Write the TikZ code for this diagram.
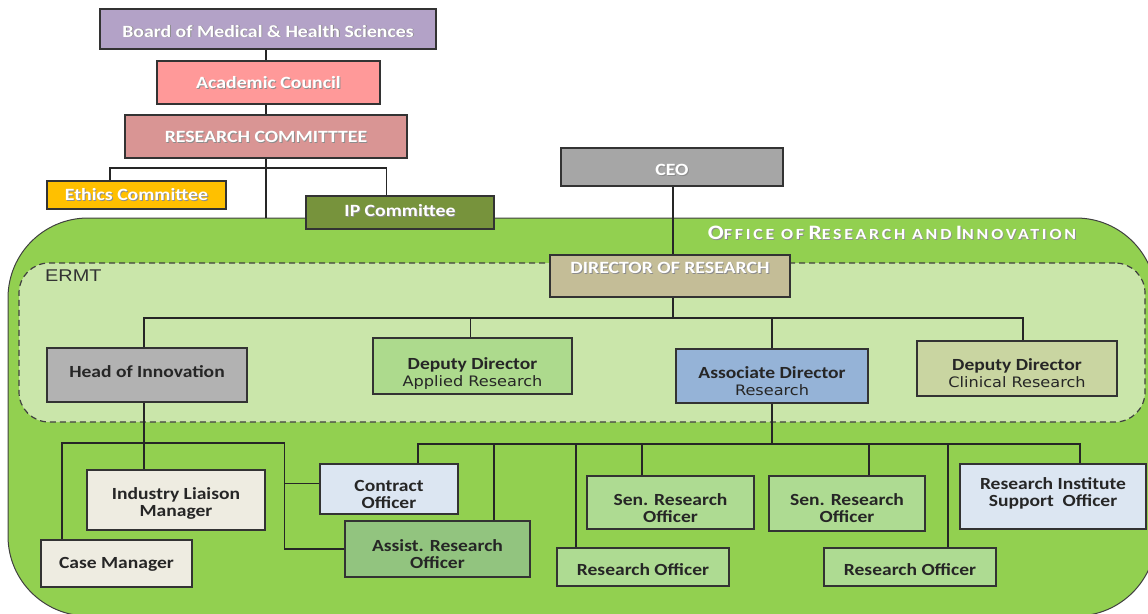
\documentclass[tikz,border=0pt]{standalone}
\usepackage{fontspec}
\setmainfont{Carlito}[FakeStretch=1.15]
\newfontfamily\subfont{DejaVu Sans}[FakeStretch=1.12]
\newfontfamily\ermtfont{Liberation Sans}[FakeStretch=1.17]
\newfontfamily\titlefont{Carlito}[FakeStretch=1.15, LetterSpace=18]

\definecolor{boardc}{HTML}{B3A2C7}
\definecolor{acadc}{HTML}{FF9999}
\definecolor{rcc}{HTML}{D99594}
\definecolor{ethc}{HTML}{FFC000}
\definecolor{ipc}{HTML}{77933C}
\definecolor{ceoc}{HTML}{A6A6A6}
\definecolor{dirc}{HTML}{C4BD97}
\definecolor{oric}{HTML}{92D050}
\definecolor{ermtc}{HTML}{CAE6AA}
\definecolor{hoic}{HTML}{B2B2B2}
\definecolor{ddac}{HTML}{ADDA8D}
\definecolor{adc}{HTML}{95B3D7}
\definecolor{ddcc}{HTML}{C9D5A1}
\definecolor{creamc}{HTML}{EEECE1}
\definecolor{palebluec}{HTML}{DCE6F2}
\definecolor{aroc}{HTML}{92C47F}
\definecolor{roc}{HTML}{AEDB92}

% white lettering with a soft dark drop shadow
\newcommand\shd[1]{\leavevmode\rlap{\kern0.9pt\raisebox{-0.9pt}{\textcolor{black!45}{#1}}}\textcolor{white}{#1}}
% hand-made small capitals for the office title
\newcommand\bigsc[1]{{\fontsize{20.5}{21}\selectfont #1}}
\newcommand\smallsc[1]{{\fontsize{15.5}{21}\selectfont #1}}
% second, lighter line inside a box
\newcommand\subline[1]{{\subfont\mdseries\fontsize{14.4}{17}\selectfont #1}}

\begin{document}
\begin{tikzpicture}[x=1pt,y=-1pt,
  box/.style={draw=black!80, line width=1.2pt, align=center, inner sep=0pt,
    font=\fontsize{17}{17}\selectfont\bfseries, text=black!85},
  wbox/.style={box, font=\fontsize{17.2}{17}\selectfont\bfseries},
  % last baseline below the top edge, and the rest of the height under it
  tb/.style 2 args={text height=#1pt, text depth=#2pt},
  link/.style={draw=black!85, line width=1.2pt},
]
\useasboundingbox (0,0) rectangle (1148,613);

% office area and the ERMT group
\node[draw=black!75, line width=1pt, fill=oric, rounded corners=80pt,
  minimum width=1148pt, minimum height=398pt, inner sep=0pt] (ori) at (582,417) {};
\node[draw=black!75, dash pattern=on 6pt off 4pt, line width=1.2pt, fill=ermtc,
  rounded corners=30pt, minimum width=1126pt, minimum height=159pt, inner sep=0pt]
  (ermt) at (582,342.5) {};
\node[anchor=north west, inner sep=0pt, font=\ermtfont\fontsize{17}{17}\selectfont,
  text=black!80] (ermtlbl) at (45,270) {ERMT};
\node[inner sep=0pt, font=\titlefont\bfseries] (orititle) at (892,233)
  {\shd{\bigsc{O}\smallsc{FFICE OF} \bigsc{R}\smallsc{ESEARCH AND} \bigsc{I}\smallsc{NNOVATION}}};

% connector positions
\coordinate (xs) at (266,0);
\coordinate (xeth) at (110,0);
\coordinate (xip) at (386.5,0);
\coordinate (xceo) at (673,0);
\coordinate (xhoi) at (144,0);
\coordinate (xdda) at (470.6,0);
\coordinate (xad) at (772,0);
\coordinate (xddc) at (1023,0);
\coordinate (xco) at (418,0);
\coordinate (xaro) at (494,0);
\coordinate (xroa) at (576,0);
\coordinate (xsroa) at (642,0);
\coordinate (xsrob) at (869,0);
\coordinate (xrob) at (948,0);
\coordinate (xriso) at (1080,0);
\coordinate (xcm) at (62,0);
\coordinate (xhr) at (284.5,0);
\coordinate (rcbus) at (0,168);
\coordinate (dbus) at (0,318);
\coordinate (abus) at (0,444);
\coordinate (hbus) at (0,443);
\coordinate (ycob) at (0,483.5);

% governance boxes
\node[wbox, fill=boardc, minimum width=336pt, tb={28}{12}] (board) at (268,29) {\shd{Board of Medical \& Health Sciences}};
\node[wbox, fill=acadc, minimum width=223pt, tb={27.6}{15.4}] (acad) at (268.5,82.5) {\shd{Academic Council}};
\node[wbox, fill=rcc, minimum width=282pt, tb={27.6}{15.4}] (rc) at (266,136.5) {\shd{RESEARCH COMMITTTEE}};
\node[wbox, fill=ethc, minimum width=179pt, tb={19.4}{8.6}] (ethics) at (136.5,195) {\shd{Ethics Committee}};
\node[wbox, fill=ipc, minimum width=188pt, tb={20.7}{12.3}] (ip) at (400,212.5) {\shd{IP Committee}};
\node[wbox, fill=ceoc, minimum width=222pt, tb={27.4}{10.6}] (ceo) at (672,167) {\shd{CEO}};
\node[wbox, fill=dirc, minimum width=240pt, tb={18.7}{23.3}] (dir) at (670,276) {\shd{DIRECTOR OF RESEARCH}};

% executive research management team
\node[box, fill=hoic, minimum width=200pt, tb={29.5}{24.5}] (hoi) at (147,375) {Head of Innovation};
\node[box, fill=ddac, minimum width=199pt, tb={48.5}{7.5}] (dda) at (472.5,366) {Deputy Director\\\subline{Applied Research}};
\node[box, fill=adc, minimum width=192pt, tb={46.5}{7.5}] (ad) at (772,376) {Associate Director\\\subline{Research}};
\node[box, fill=ddcc, minimum width=200pt, tb={46.5}{8.5}] (ddc) at (1017,368.5) {Deputy Director\\\subline{Clinical Research}};

% staff
\node[box, fill=creamc, minimum width=178pt, tb={46.5}{13.5}] (ilm) at (176,500) {Industry Liaison\\Manager};
\node[box, fill=creamc, minimum width=151pt, tb={28.2}{18.8}] (cm) at (116.5,563.5) {Case Manager};
\node[box, fill=palebluec, minimum width=138pt, tb={44.2}{5.8}] (co) at (389,489) {Contract\\Officer};
\node[box, fill=aroc, minimum width=185pt, tb={47.2}{8.8}] (aro) at (437.5,549) {Assist. Research\\Officer};
\node[box, fill=roc, minimum width=172pt, tb={27.5}{10.5}] (roa) at (643,567) {Research Officer};
\node[box, fill=roc, minimum width=167pt, tb={46.5}{6.5}] (sroa) at (670.5,502.5) {Sen. Research\\Officer};
\node[box, fill=roc, minimum width=156pt, tb={46.5}{8.5}] (srob) at (847,503.5) {Sen. Research\\Officer};
\node[box, fill=roc, minimum width=172pt, tb={27.5}{10.5}] (rob) at (910,567) {Research Officer};
\node[box, fill=palebluec, minimum width=186pt, tb={42.5}{22.5}] (riso) at (1053,496.5) {Research Institute\\Support\ \ Officer};

% connectors
\draw[link] (board.south -| xs) -- (acad.north -| xs);
\draw[link] (acad.south -| xs) -- (rc.north -| xs);
\draw[link] (rc.south -| xs) -- (ori.north -| xs);
\draw[link] (ethics.north -| xeth) |- (xs |- rcbus) -| (ip.north -| xip);
\draw[link] (ceo.south -| xceo) -- (dir.north -| xceo);
\draw[link] (dir.south -| xceo) -- (xceo |- dbus);
\draw[link] (hoi.north -| xhoi) |- (xceo |- dbus) -| (ddc.north -| xddc);
\draw[link] (dda.north -| xdda) -- (xdda |- dbus);
\draw[link] (ad.north -| xad) -- (xad |- dbus);
\draw[link] (ad.south -| xad) -- (xad |- abus);
\draw[link] (co.north -| xco) |- (xad |- abus) -| (riso.north -| xriso);
\draw[link] (aro.north -| xaro) -- (xaro |- abus);
\draw[link] (roa.north -| xroa) -- (xroa |- abus);
\draw[link] (sroa.north -| xsroa) -- (xsroa |- abus);
\draw[link] (srob.north -| xsrob) -- (xsrob |- abus);
\draw[link] (rob.north -| xrob) -- (xrob |- abus);
\draw[link] (hoi.south -| xhoi) -- (ilm.north -| xhoi);
\draw[link] (cm.north -| xcm) |- (xhr |- hbus) |- (aro.west);
\draw[link] (co.west |- ycob) -- (xhr |- ycob);
\end{tikzpicture}
\end{document}
